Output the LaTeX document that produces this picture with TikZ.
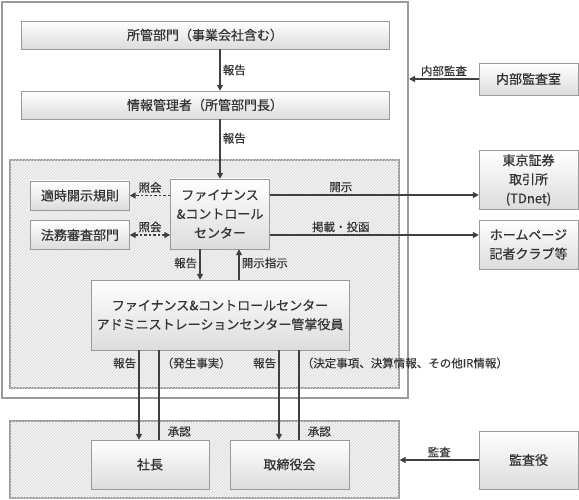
\documentclass[tikz,border=0pt]{standalone}
\usepackage{fontspec}
\setmainfont{Noto Sans CJK JP}
\newfontfamily\boxfont{Noto Sans CJK JP}[FakeBold=0.6]
\newfontfamily\lblfont{Noto Sans CJK JP}[FakeBold=0.25]
\usetikzlibrary{arrows.meta,patterns}
\definecolor{ink}{HTML}{333333}
\definecolor{rim}{HTML}{9A9A9A}
\definecolor{wire}{HTML}{404040}
\definecolor{zonebg}{HTML}{F3F3F3}
\definecolor{zoneln}{HTML}{DADADA}
\definecolor{boxlow}{HTML}{DCDCDC}

\begin{document}
\begin{tikzpicture}[x=1pt,y=-1pt,
  box/.style={draw=rim,top color=white,bottom color=boxlow,text=ink,font=\boxfont\fontsize{13}{19}\selectfont,align=center,inner sep=0pt},
  frame/.style={draw=rim,line width=2pt},
  zone/.style={draw=rim,line width=1.2pt,fill=zonebg,postaction={pattern=north east lines,pattern color=zoneln}},
  arr/.style={draw=wire,line width=1.6pt,-{Triangle[length=6pt,width=6pt]}},
  wire line/.style={draw=wire,line width=1.6pt},
  ask/.style={line width=1.4pt,dash pattern=on 2.5pt off 2pt},
  lbl/.style={text=ink,font=\lblfont\fontsize{11.5}{13}\selectfont,inner sep=2pt}]
\useasboundingbox (0,0) rectangle (579,500);

\node[frame,minimum width=406,minimum height=396] (outer) at (205,200) {};
\node[zone,minimum width=389,minimum height=228] (upper) at (204.5,274) {};
\node[zone,minimum width=389,minimum height=77] (lower) at (204.5,459.5) {};

\node[box,minimum width=368,minimum height=28] (dept) at (205,35) {所管部門（事業会社含む）};
\node[box,minimum width=368,minimum height=28] (info) at (205,105) {情報管理者（所管部門長）};
\node[box,minimum width=99,minimum height=29] (rule) at (80,195.5) {適時開示規則};
\node[box,minimum width=99,minimum height=29] (legal) at (80,235) {法務審査部門};
\node[box,minimum width=99,minimum height=70] (fc) at (220,214) {ファイナンス\\\&コントロール\\センター};
\node[box,minimum width=258,minimum height=70] (admin) at (220,315) {ファイナンス\&コントロールセンター\\アドミニストレーションセンター管掌役員};
\node[box,minimum width=99,minimum height=32] (audit) at (528.5,79) {内部監査室};
\node[box,minimum width=99,minimum height=59] (tse) at (528.5,180) {東京証券\\取引所\\(TDnet)};
\node[box,minimum width=99,minimum height=49] (press) at (528.5,244.5) {ホームページ\\記者クラブ等};
\node[box,minimum width=118,minimum height=49] (pres) at (150,464.5) {社長};
\node[box,minimum width=119,minimum height=49] (board) at (289.5,464.5) {取締役会};
\node[box,minimum width=99,minimum height=58] (kansa) at (528.5,460) {監査役};

\coordinate (toTse) at ([yshift=-15]tse.west);
\coordinate (toPress) at ([yshift=9.5]press.west);
\coordinate (repPres) at ([xshift=-11]pres.north);
\coordinate (okPres) at ([xshift=9]pres.north);
\coordinate (repBoard) at ([xshift=-10.5]board.north);
\coordinate (okBoard) at ([xshift=9.5]board.north);

\draw[arr] ([xshift=15]dept.south) -- ([xshift=15]info.north) node[lbl,right,midway] (rep1) {報告};
\draw[arr] ([xshift=15]info.south) -- (fc.north) node[lbl,right,pos=0.32] (rep2) {報告};
\draw[arr] (audit.west) -- (audit.west -| outer.east) node[lbl,above,midway] (iaudit) {内部監査};

\draw[arr,ask] (fc.west |- rule.east) -- (rule.east) node[lbl,above,midway] (ask1) {照会};
\draw[arr,ask,{Triangle[length=6pt,width=6pt]}-{Triangle[length=6pt,width=6pt]}] (fc.west |- legal.east) -- (legal.east) node[lbl,above,midway] (ask2) {照会};

\draw[arr] (toTse -| fc.east) -- (toTse) node[lbl,above,pos=0.34] (disc) {開示};
\draw[arr] (toPress -| fc.east) -- (toPress) node[lbl,above,pos=0.34] (post) {掲載・投函};

\draw[arr] ([xshift=-20]fc.south) -- ([xshift=-20]admin.north) node[lbl,left,pos=0.45] (rep3) {報告};
\draw[arr] ([xshift=19]admin.north) -- ([xshift=19]fc.south) node[lbl,right,pos=0.55] (order) {開示指示};

\draw[arr] (repPres |- admin.south) -- (repPres) node[lbl,left,pos=0.144] (rep4) {報告};
\draw[wire line] (okPres) -- (okPres |- admin.south) node[lbl,anchor=west,xshift=6,pos=0.09] (ok1) {承認}
  node[lbl,right,pos=0.856] (fact) {（発生事実）};
\draw[arr] (repBoard |- admin.south) -- (repBoard) node[lbl,left,pos=0.144] (rep5) {報告};
\draw[wire line] (okBoard) -- (okBoard |- admin.south) node[lbl,anchor=west,xshift=6,pos=0.09] (ok2) {承認}
  node[lbl,right,pos=0.856] (ir) {（決定事項、決算情報、その他IR情報）};

\draw[arr] (kansa.west) -- (kansa.west -| lower.east) node[lbl,above,midway] (kaudit) {監査};

\end{tikzpicture}
\end{document}
